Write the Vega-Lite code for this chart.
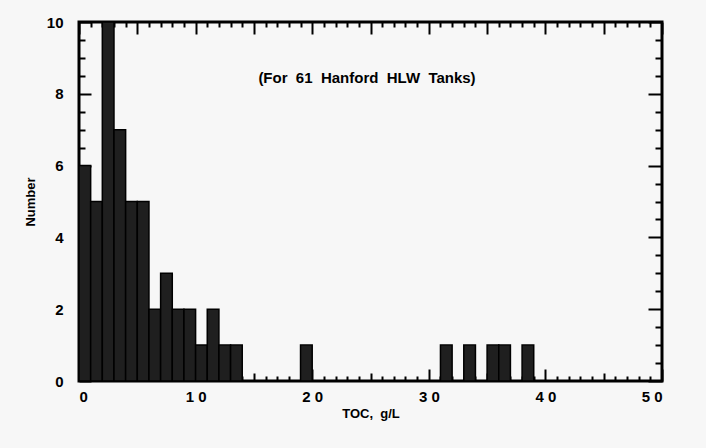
{
  "$schema": "https://vega.github.io/schema/vega-lite/v6.json",
  "width": 583,
  "height": 359,
  "autosize": {"type": "none"},
  "padding": {"left": 79, "top": 22, "right": 44, "bottom": 67},
  "background": "#f7f7f7",
  "config": {
    "view": {"stroke": "#000", "strokeWidth": 3},
    "font": "Liberation Sans",
    "axis": {
      "grid": false,
      "domain": false,
      "tickColor": "#000",
      "labelColor": "#000",
      "titleColor": "#000",
      "labelFont": "Liberation Sans",
      "titleFont": "Liberation Sans",
      "labelFontWeight": "bold",
      "titleFontWeight": "bold"
    }
  },
  "datasets": {
    "hist": [
      {"bin_start": 0, "bin_end": 1, "count": 6},
      {"bin_start": 1, "bin_end": 2, "count": 5},
      {"bin_start": 2, "bin_end": 3, "count": 10},
      {"bin_start": 3, "bin_end": 4, "count": 7},
      {"bin_start": 4, "bin_end": 5, "count": 5},
      {"bin_start": 5, "bin_end": 6, "count": 5},
      {"bin_start": 6, "bin_end": 7, "count": 2},
      {"bin_start": 7, "bin_end": 8, "count": 3},
      {"bin_start": 8, "bin_end": 9, "count": 2},
      {"bin_start": 9, "bin_end": 10, "count": 2},
      {"bin_start": 10, "bin_end": 11, "count": 1},
      {"bin_start": 11, "bin_end": 12, "count": 2},
      {"bin_start": 12, "bin_end": 13, "count": 1},
      {"bin_start": 13, "bin_end": 14, "count": 1},
      {"bin_start": 19, "bin_end": 20, "count": 1},
      {"bin_start": 31, "bin_end": 32, "count": 1},
      {"bin_start": 33, "bin_end": 34, "count": 1},
      {"bin_start": 35, "bin_end": 36, "count": 1},
      {"bin_start": 36, "bin_end": 37, "count": 1},
      {"bin_start": 38, "bin_end": 39, "count": 1}
    ],
    "note": [
      {"x": 24.7, "y": 8.45, "label": "(For\u00a0 61\u00a0 Hanford\u00a0 HLW\u00a0 Tanks)"}
    ]
  },
  "resolve": {"axis": {"x": "independent", "y": "independent"}},
  "layer": [
    {
      "data": {"name": "hist"},
      "mark": {"type": "bar", "fill": "#1f1f1f", "stroke": "#000", "strokeWidth": 1.5},
      "encoding": {
        "x": {"field": "bin_start", "type": "quantitative",
          "scale": {"domain": [0, 50], "nice": false, "zero": false},
          "axis": {"orient": "bottom", "values": [0, 10, 20, 30, 40, 50], "tickSize": -12, "tickWidth": 2,
            "labelFontSize": 15, "labelPadding": 20, "labelExpr": "join(split(datum.label, ''), ' ')",
            "title": "TOC,\u00a0\u00a0g/L", "titleFontSize": 13, "titlePadding": 3}},
        "x2": {"field": "bin_end"},
        "y": {"field": "count", "type": "quantitative",
          "scale": {"domain": [0, 10], "nice": false},
          "axis": {"orient": "left", "values": [0, 2, 4, 6, 8, 10], "tickSize": -12, "tickWidth": 2,
            "labelFontSize": 15, "labelPadding": 28,
            "title": "Number", "titleFontSize": 13, "titlePadding": 9}},
        "y2": {"datum": 0}
      }
    },
    {
      "data": {"name": "hist"},
      "mark": {"type": "bar", "opacity": 0},
      "encoding": {
        "x": {"field": "bin_start", "type": "quantitative",
          "axis": {"orient": "bottom", "values": [5, 15, 25, 35, 45], "tickSize": -8, "tickWidth": 2, "labels": false, "title": null}},
        "x2": {"field": "bin_end"},
        "y": {"field": "count", "type": "quantitative",
          "axis": {"orient": "left", "values": [0.5,1,1.5,2.5,3,3.5,4.5,5,5.5,6.5,7,7.5,8.5,9,9.5], "tickSize": -6, "tickWidth": 2, "labels": false, "title": null}},
        "y2": {"datum": 0}
      }
    },
    {
      "data": {"name": "hist"},
      "mark": {"type": "bar", "opacity": 0},
      "encoding": {
        "x": {"field": "bin_start", "type": "quantitative",
          "axis": {"orient": "bottom", "values": [1,2,3,4,6,7,8,9,11,12,13,14,16,17,18,19,21,22,23,24,26,27,28,29,31,32,33,34,36,37,38,39,41,42,43,44,46,47,48,49], "tickSize": -5, "tickWidth": 2, "labels": false, "title": null}},
        "x2": {"field": "bin_end"},
        "y": {"field": "count", "type": "quantitative",
          "axis": {"orient": "right", "values": [0, 2, 4, 6, 8, 10], "tickSize": -14, "tickWidth": 2, "labels": false, "title": null}},
        "y2": {"datum": 0}
      }
    },
    {
      "data": {"name": "hist"},
      "mark": {"type": "bar", "opacity": 0},
      "encoding": {
        "x": {"field": "bin_start", "type": "quantitative",
          "axis": {"orient": "top", "values": [0, 5, 10, 15, 20, 25, 30, 35, 40, 45, 50], "tickSize": -12, "tickWidth": 2, "labels": false, "title": null}},
        "x2": {"field": "bin_end"},
        "y": {"field": "count", "type": "quantitative",
          "axis": {"orient": "right", "values": [0.5,1,1.5,2.5,3,3.5,4.5,5,5.5,6.5,7,7.5,8.5,9,9.5], "tickSize": -7, "tickWidth": 2, "labels": false, "title": null}},
        "y2": {"datum": 0}
      }
    },
    {
      "data": {"name": "note"},
      "mark": {"type": "text", "font": "Liberation Sans", "fontWeight": "bold", "fontSize": 15, "align": "center", "baseline": "middle", "color": "#000"},
      "encoding": {
        "x": {"field": "x", "type": "quantitative",
          "axis": {"orient": "top", "values": [1,2,3,4,6,7,8,9,11,12,13,14,16,17,18,19,21,22,23,24,26,27,28,29,31,32,33,34,36,37,38,39,41,42,43,44,46,47,48,49], "tickSize": -5, "tickWidth": 2, "labels": false, "title": null}},
        "y": {"field": "y", "type": "quantitative", "axis": null},
        "text": {"field": "label"}
      }
    }
  ]
}
